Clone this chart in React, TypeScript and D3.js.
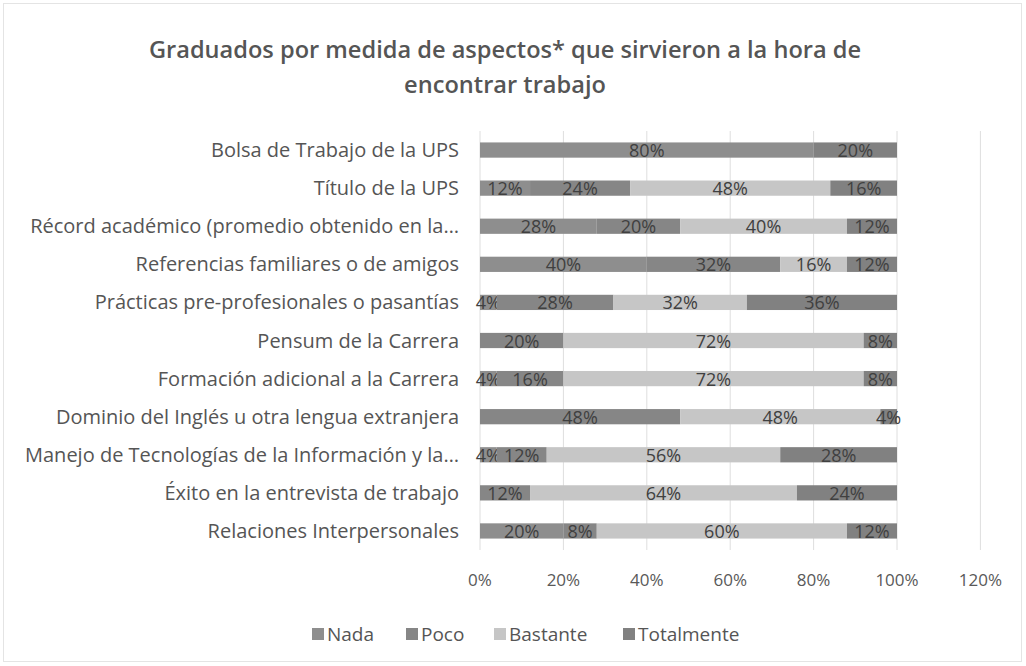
import React from "react";
import * as d3 from "d3";

const categories = [
  "Bolsa de Trabajo de la UPS",
  "Título de la UPS",
  "Récord académico (promedio obtenido en la…",
  "Referencias familiares o de amigos",
  "Prácticas pre-profesionales o pasantías",
  "Pensum de la Carrera",
  "Formación adicional a la Carrera",
  "Dominio del Inglés u otra lengua extranjera",
  "Manejo de Tecnologías de la Información y la…",
  "Éxito en la entrevista de trabajo",
  "Relaciones Interpersonales",
];
const seriesNames = ["Nada", "Poco", "Bastante", "Totalmente"];
const nada = [80, 12, 28, 40, 4, 0, 4, 0, 4, 0, 20];
const poco = [0, 24, 20, 32, 28, 20, 16, 48, 12, 12, 8];
const bastante = [0, 48, 40, 16, 32, 72, 72, 48, 56, 64, 60];
const totalmente = [20, 16, 12, 12, 36, 8, 8, 4, 28, 24, 12];
const xTicks = [0, 20, 40, 60, 80, 100, 120];
const titleLines = [
  "Graduados por medida de aspectos* que sirvieron a la hora de",
  "encontrar trabajo",
];

const colors = ["#8e8e8e", "#868686", "#c6c6c6", "#818181"];
const FONT = "'Open Sans', sans-serif";

export default function App() {
  const W = 1026, H = 666;
  const x = d3.scaleLinear().domain([0, 120]).range([480, 980.4]);
  const y = d3.scaleBand().domain(categories).range([131, 550]).paddingInner(0.6).paddingOuter(0.3);
  const values = [nada, poco, bastante, totalmente];
  const rows = categories.map((c, i) => values.map((v) => v[i]));
  const stacked = d3.stack<number[]>().keys([0, 1, 2, 3] as any).value((d, k: any) => d[k])(rows as any);
  const legendX = [312, 406, 494, 623];
  return (
    <svg width={W} height={H} style={{ position: "absolute", left: 0, top: 0, background: "#fff" }}>
      <rect x={3.5} y={3.5} width={1018} height={658} fill="#fff" stroke="#e4e4e4" />
      {titleLines.map((t, i) => (
        <text key={i} x={505} y={58 + i * 35} textAnchor="middle" fontFamily={FONT} fontWeight={600} fontSize={23.6} fill="#555">{t}</text>
      ))}
      {xTicks.map((t) => (
        <g key={t}>
          <line x1={x(t)} x2={x(t)} y1={131} y2={550} stroke="#dedede" strokeWidth={1} />
          <text x={x(t)} y={586} textAnchor="middle" fontFamily={FONT} fontSize={17} fill="#595959">{t}%</text>
        </g>
      ))}
      {categories.map((c) => (
        <text key={c} x={459} y={(y(c) as number) + y.bandwidth() / 2 + 7} textAnchor="end" fontFamily={FONT} fontSize={20} fill="#555">{c}</text>
      ))}
      {stacked.map((s, k) => (
        <g key={k}>
          {s.map((d, i) => {
            const v = d[1] - d[0];
            if (v <= 0) return null;
            const yy = y(categories[i]) as number;
            return (
              <g key={i}>
                <rect x={x(d[0])} y={yy} width={x(d[1]) - x(d[0])} height={y.bandwidth()} fill={colors[k]} />
                <text x={(x(d[0]) + x(d[1])) / 2} y={yy + y.bandwidth() / 2 + 7} textAnchor="middle" fontFamily={FONT} fontSize={18} fill="#404040">{v}%</text>
              </g>
            );
          })}
        </g>
      ))}
      {seriesNames.map((n, k) => (
        <g key={n}>
          <rect x={legendX[k]} y={628} width={12} height={12} fill={colors[k]} />
          <text x={legendX[k] + 15} y={641} fontFamily={FONT} fontSize={19} fill="#555">{n}</text>
        </g>
      ))}
    </svg>
  );
}
